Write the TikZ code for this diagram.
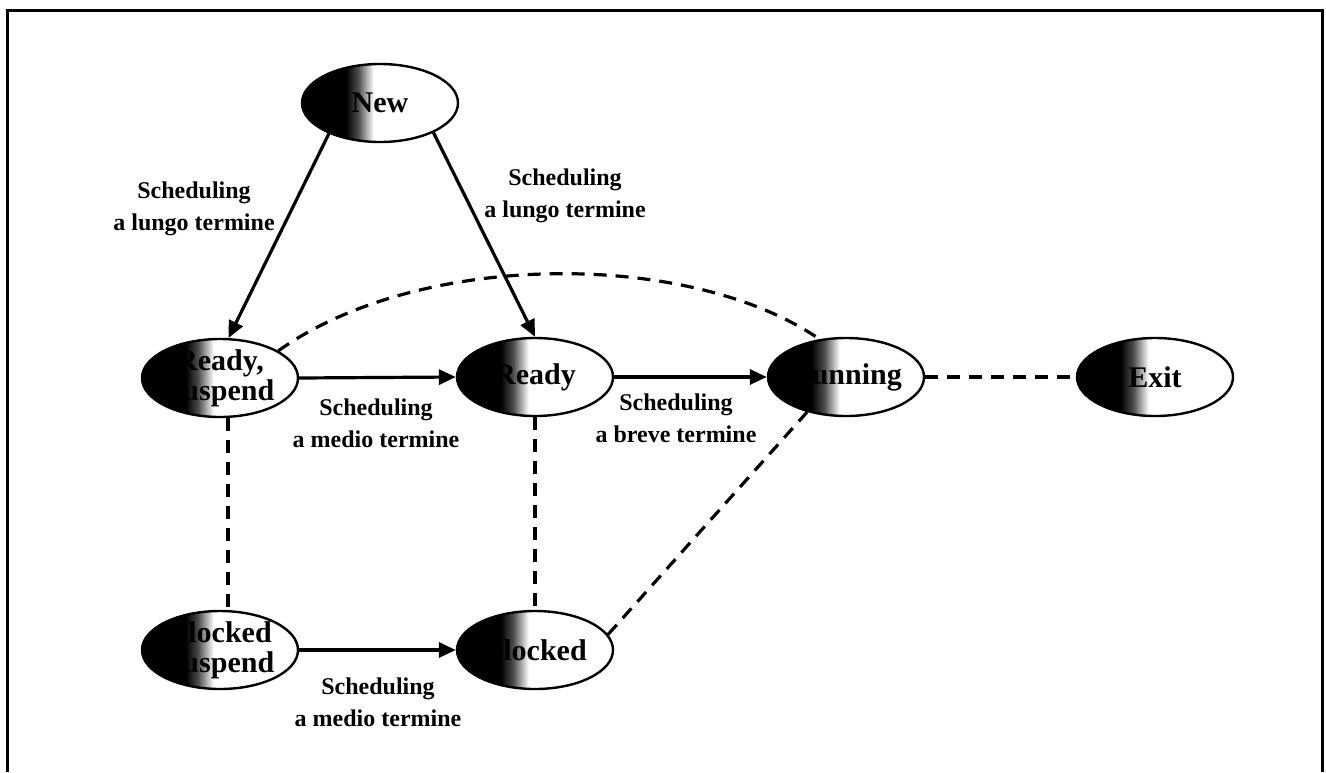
\documentclass[tikz,border=0pt]{standalone}
\usepackage{fontspec}
\setmainfont{Liberation Serif}
\usetikzlibrary{shapes.geometric,arrows.meta}
\pgfdeclarehorizontalshading{scuro}{100bp}{color(0bp)=(black); color(39bp)=(black); color(43bp)=(black!70); color(48bp)=(white); color(100bp)=(white)}
\begin{document}
\begin{tikzpicture}[x=0.5pt,y=-0.5pt,
    stato/.style={ellipse,draw,line width=1.2pt,shading=scuro,minimum width=78pt,minimum height=39pt,
      inner sep=-20pt,align=center,font=\fontsize{15}{15}\selectfont\bfseries},
    etichetta/.style={align=center,font=\fontsize{12}{16}\selectfont\bfseries},
    freccia/.style={-{Triangle[length=8.5pt,width=7.5pt]},line width=1.6pt},
    tratto/.style={line width=1.6pt,dash pattern=on 6.5pt off 4.5pt}]
  \useasboundingbox (0,0) rectangle (1326,772);
  % cornice
  \draw[line width=1.5pt] (7,772) -- (7,10) -- (1322,10) -- (1322,772);
  % stati
  \node[stato] (new) at (380,103) {New};
  \node[stato] (rs) at (220,378) {Ready,\\Suspend};
  \node[stato] (rd) at (535,377) {Ready};
  \node[stato] (run) at (846,377) {Running};
  \node[stato] (ex) at (1155,377) {Exit};
  \node[stato] (bs) at (220,650) {Blocked\\Suspend};
  \node[stato] (bl) at (535,650) {Blocked};
  % transizioni
  \draw[freccia] (new.211) -- (rs.78);
  \draw[freccia] (new.331) -- (rd.north);
  \draw[freccia] (rs.east) -- (rd.west);
  \draw[freccia] (rd.east) -- (run.west);
  \draw[freccia] (bs.east) -- (bl.west);
  \draw[tratto] (run.east) -- (ex.west);
  \draw[tratto] ([xshift=4pt]rs.south) -- ([xshift=4pt]bs.north);
  \draw[tratto] (rd.south) -- (bl.north);
  \draw[tratto] (bl.12) -- (run.222);
  \draw[tratto] (rs.25) .. controls (420,250) and (690,250) .. (run.125);
  % etichette
  \node[etichetta] (lt1) at (194,209) {Scheduling\\a lungo termine};
  \node[etichetta] (lt2) at (565,196) {Scheduling\\a lungo termine};
  \node[etichetta] (mt1) at (376,423) {Scheduling\\a medio termine};
  \node[etichetta] (bt) at (676,418) {Scheduling\\a breve termine};
  \node[etichetta] (mt2) at (378,702) {Scheduling\\a medio termine};
\end{tikzpicture}
\end{document}
